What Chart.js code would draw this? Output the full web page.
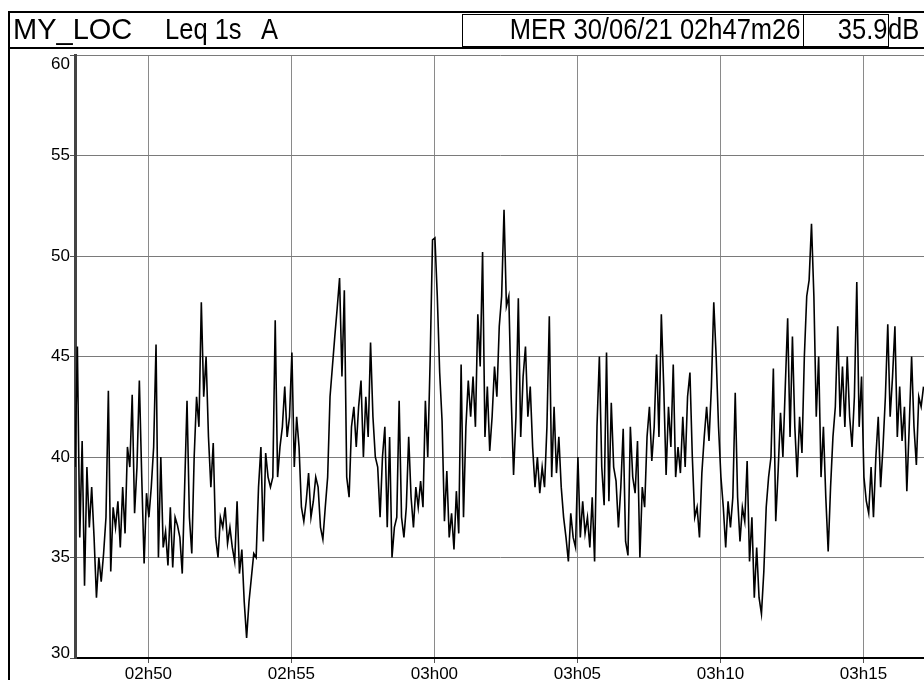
<!DOCTYPE html>
<html>
<head>
<meta charset="utf-8">
<script src="https://cdn.jsdelivr.net/npm/chart.js@4.4.1/dist/chart.umd.min.js"></script>
<style>
html, body { margin: 0; padding: 0; background: #fff; overflow: hidden; }
body { width: 924px; height: 680px; position: relative; font-family: 'Liberation Sans', Arial, sans-serif; }
#chart { position: absolute; left: 0; top: 0; }
.line { position: absolute; background: #000; }
.box { position: absolute; border: 1px solid #000; box-sizing: border-box; }
.t { position: absolute; font-size: 29px; line-height: 29px; white-space: pre; color: #000;
     transform: scaleX(0.88); }
</style>
</head>
<body>
<canvas id="chart" width="924" height="680"></canvas>

<!-- header frame -->
<div class="line" style="left:8px;top:11px;width:916px;height:2px"></div>
<div class="line" style="left:8px;top:11px;width:2px;height:669px"></div>
<div class="line" style="left:8px;top:47px;width:916px;height:2px"></div>
<div class="box" style="left:462px;top:14px;width:342px;height:33px"></div>
<div class="box" style="left:803px;top:14px;width:86px;height:33px"></div>
<div class="t" style="left:13px;top:15px;transform:scaleX(1);transform-origin:left top">MY_LOC</div>
<div class="t" style="left:165px;top:15px;transform-origin:left top">Leq 1s</div>
<div class="t" style="left:261px;top:15px;transform-origin:left top">A</div>
<div class="t" style="right:124px;top:15px;transform-origin:right top">MER 30/06/21 02h47m26</div>
<div class="t" style="right:37px;top:15px;transform-origin:right top">35.9</div>
<div class="t" style="left:888px;top:15px;transform-origin:left top">dB</div>

<script>
// Leq 1s A, one value every 5 s from 02h47m26
const STEP_S = 5;
const LEQ_DB = [
  39.5,45.5,36.0,40.8,33.6,39.5,36.5,38.5,36.0,33.0,
  35.0,33.8,35.2,37.0,43.3,34.3,37.5,36.5,37.8,35.5,
  38.5,36.2,40.5,39.5,43.1,37.2,39.5,43.8,39.0,34.7,
  38.2,37.0,38.5,40.5,45.6,35.0,40.0,35.5,36.3,34.6,
  37.5,34.5,37.0,36.6,36.0,34.2,38.5,42.8,37.0,35.2,
  40.0,43.0,41.5,47.7,43.0,45.0,41.0,38.5,40.7,36.0,
  35.0,37.0,36.5,37.5,35.7,36.5,35.5,34.8,37.8,34.2,
  35.4,32.8,
  31.0,32.8,34.0,35.2,35.0,38.5,40.5,35.8,40.2,39.0,
  38.5,39.0,46.8,39.0,40.5,41.5,43.5,41.0,42.0,45.2,
  39.5,42.0,40.5,37.5,36.8,37.8,39.2,37.0,37.8,39.0,
  38.5,36.5,35.9,37.5,39.0,43.0,44.5,46.0,47.4,48.9,
  44.0,48.3,39.0,38.0,41.5,42.5,40.5,42.5,43.8,40.0,
  43.0,41.0,45.7,42.0,40.0,39.5,37.0,40.0,41.5,36.5,
  41.0,35.0,36.5,37.0,42.8,37.0,36.0,37.5,41.0,38.0,
  36.5,38.5,
  37.5,38.8,37.5,42.8,40.0,44.8,50.8,50.9,48.0,44.2,
  41.8,36.8,39.3,36.0,37.2,35.4,38.3,36.2,44.6,37.0,
  41.5,43.8,42.0,44.0,41.5,47.1,44.5,50.2,41.0,43.5,
  40.3,42.0,44.5,43.0,46.5,48.0,52.3,47.5,48.0,43.0,
  39.1,42.0,47.9,41.0,44.0,45.5,42.0,43.5,40.5,38.5,
  40.0,38.2,39.5,38.5,41.5,47.0,39.0,42.5,39.2,41.0,
  38.5,37.0,36.0,34.8,37.2,36.0,35.5,40.0,36.0,37.8,
  36.2,
  37.0,35.5,38.0,34.8,41.5,45.0,39.5,37.6,45.2,37.8,
  42.7,39.5,38.8,36.5,38.5,41.4,35.8,35.1,41.5,39.0,
  38.2,40.8,35.0,38.5,37.5,41.0,42.5,39.8,41.5,45.1,
  41.0,47.1,43.5,39.1,42.5,40.5,44.6,39.0,40.5,39.2,
  42.0,39.5,43.0,44.2,40.0,37.0,37.5,36.0,39.2,41.0,
  42.5,40.8,43.5,47.7,45.0,41.5,39.0,37.5,35.5,37.8,
  36.5,38.0,43.2,38.0,35.8,37.5,36.8,39.8,34.8,37.0,
  33.0,
  35.5,33.0,32.2,34.3,37.5,39.0,40.0,44.4,36.8,39.3,
  42.2,40.0,43.5,46.9,41.0,46.0,41.5,39.0,42.0,40.2,
  45.0,48.0,48.8,51.6,48.0,42.0,45.0,39.0,41.5,38.0,
  35.3,38.5,41.0,42.5,46.5,42.0,44.5,41.5,45.0,42.0,
  40.5,43.0,48.7,41.5,44.0,39.0,37.8,37.2,39.5,37.0,
  40.0,42.0,38.5,40.5,43.0,46.6,42.0,44.0,46.5,41.0,
  43.5,40.8,42.5,38.3,41.5,45.0,41.5,39.6,43.0,42.5,
  43.5
];

// time axis in seconds after 02h47m26
const X_TICK_S = [154, 454, 754, 1054, 1354, 1654];
const X_TICK_LABELS = ['02h50', '02h55', '03h00', '03h05', '03h10', '03h15'];
const X_MAX_S = 1781;
const Y_TICKS = [30, 35, 40, 45, 50, 55, 60];

const points = LEQ_DB.map((v, i) => ({ x: i * STEP_S, y: v }));

const yLabels = {
  id: 'yLabels',
  afterDraw(chart) {
    const { ctx, chartArea, scales } = chart;
    ctx.save();
    ctx.font = '17px "Liberation Sans", Arial, sans-serif';
    ctx.fillStyle = '#000';
    ctx.textAlign = 'right';
    Y_TICKS.forEach((v, i) => {
      let py = scales.y.getPixelForValue(v);
      if (i === 0) ctx.textBaseline = 'alphabetic';
      else if (i === Y_TICKS.length - 1) { ctx.textBaseline = 'top'; py += 1; }
      else ctx.textBaseline = 'middle';
      ctx.fillText(String(v), chartArea.left - 5, py);
    });
    ctx.restore();
  }
};

new Chart(document.getElementById('chart'), {
  type: 'line',
  data: {
    datasets: [{
      data: points,
      borderColor: '#000',
      borderWidth: 1.6,
      pointRadius: 0,
      tension: 0,
      fill: false
    }]
  },
  options: {
    responsive: false,
    animation: false,
    events: [],
    layout: { padding: { top: 55, left: 0, right: 0, bottom: 0 } },
    plugins: { legend: { display: false }, tooltip: { enabled: false } },
    scales: {
      x: {
        type: 'linear',
        min: 0,
        max: X_MAX_S,
        afterBuildTicks: s => { s.ticks = X_TICK_S.map(v => ({ value: v })); },
        afterFit: s => { s.height = 22; },
        ticks: {
          autoSkip: false,
          maxRotation: 0,
          padding: 1,
          color: '#000',
          font: { family: '"Liberation Sans", Arial, sans-serif', size: 17 },
          callback: (v, i) => X_TICK_LABELS[i]
        },
        grid: { color: '#8a8a8a', lineWidth: 1, tickLength: 5, tickColor: '#555' },
        border: { display: true, color: '#000', width: 2 }
      },
      y: {
        min: 30,
        max: 60,
        afterBuildTicks: s => { s.ticks = Y_TICKS.map(v => ({ value: v })); },
        afterFit: s => { s.width = 75; },
        ticks: { display: false },
        grid: { color: '#7a7a7a', lineWidth: 1, tickLength: 5, tickColor: '#555' },
        border: { display: true, color: '#444', width: 3 }
      }
    }
  },
  plugins: [yLabels]
});
</script>
</body>
</html>
